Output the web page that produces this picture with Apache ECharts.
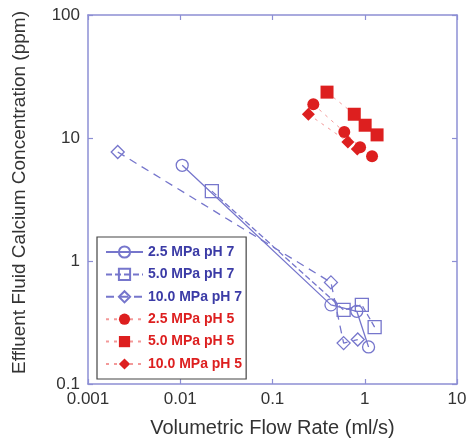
<!DOCTYPE html>
<html><head><meta charset="utf-8">
<script src="https://cdn.jsdelivr.net/npm/echarts@6/dist/echarts.min.js"></script>
<style>html,body{margin:0;padding:0;background:#fff}#c{width:475px;height:443px}</style>
</head><body><div id="c"></div>
<script>
const xTicks = [0.001, 0.01, 0.1, 1, 10];
const yTicks = [0.1, 1, 10, 100];
const names = ['2.5 MPa pH 7','5.0 MPa pH 7','10.0 MPa pH 7','2.5 MPa pH 5','5.0 MPa pH 5','10.0 MPa pH 5'];
const flow25pH7 = [0.0105, 0.43, 0.82, 1.1];
const ca25pH7   = [6.0, 0.44, 0.39, 0.20];
const flow50pH7 = [0.022, 0.59, 0.93, 1.28];
const ca50pH7   = [3.7, 0.40, 0.44, 0.29];
const flow100pH7 = [0.0021, 0.43, 0.59, 0.84];
const ca100pH7   = [7.7, 0.67, 0.215, 0.23];
const flow25pH5 = [0.277, 0.60, 0.89, 1.20];
const ca25pH5   = [18.8, 11.2, 8.4, 7.1];
const flow50pH5 = [0.39, 0.77, 1.01, 1.36];
const ca50pH5   = [23.6, 15.6, 12.7, 10.6];
const flow100pH5 = [0.245, 0.656, 0.83];
const ca100pH5   = [15.6, 9.3, 8.15];

const BLUE = '#7676cc', BLUE_TXT = '#3b3ba6', RED = '#dd1f1f', AX = '#8d8fd4';
const zip = (a, b) => a.map((v, i) => [v, b[i]]);
const fmt = v => String(v);

function axisBase(show) {
  return {
    type: 'log', logBase: 10,
    axisLine: { show: true, onZero: false, lineStyle: { color: AX, width: 1.5 } },
    axisTick: { show: true, inside: true, length: 5, lineStyle: { color: AX, width: 1.2 } },
    minorTick: { show: false },
    splitLine: { show: false },
    axisLabel: { show: show, color: '#333', fontSize: 17, fontFamily: 'Liberation Sans, Arial', formatter: fmt }
  };
}

function blueSeries(name, x, y, symbol, size, dash) {
  return {
    name, type: 'line', data: zip(x, y), symbol, symbolSize: size,
    showAllSymbol: true,
    itemStyle: { color: 'rgba(255,255,255,0)', borderColor: BLUE, borderWidth: 1.3 },
    lineStyle: { color: BLUE, width: 1.3, type: dash },
    z: 3
  };
}
function redSeries(name, x, y, symbol, size) {
  return {
    name, type: 'line', data: zip(x, y), symbol, symbolSize: size,
    showAllSymbol: true,
    itemStyle: { color: RED, borderColor: RED, borderWidth: 0 },
    lineStyle: { color: '#f08080', width: 1, type: [3, 5], opacity: 0.8 },
    z: 4
  };
}

const chart = echarts.init(document.getElementById('c'), null, { renderer: 'canvas' });
chart.setOption({
  animation: false,
  backgroundColor: '#fff',
  grid: { left: 88, right: 18, top: 15, bottom: 56, containLabel: false },
  xAxis: [
    Object.assign(axisBase(true), { min: xTicks[0], max: xTicks[xTicks.length - 1], position: 'bottom',
      name: 'Volumetric Flow Rate (ml/s)', nameLocation: 'middle', nameGap: 34,
      nameTextStyle: { color: '#333', fontSize: 20, fontFamily: 'Liberation Sans, Arial' },
      axisLabel: { show: true, color: '#333', fontSize: 17, margin: 7, fontFamily: 'Liberation Sans, Arial', formatter: fmt } }),
    Object.assign(axisBase(false), { min: xTicks[0], max: xTicks[xTicks.length - 1], position: 'top' })
  ],
  yAxis: [
    Object.assign(axisBase(true), { min: yTicks[0], max: yTicks[yTicks.length - 1], position: 'left',
      name: 'Effluent Fluid Calcium Concentration (ppm)', nameLocation: 'middle', nameGap: 59, nameRotate: 90,
      nameTextStyle: { color: '#333', fontSize: 19, fontFamily: 'Liberation Sans, Arial', padding: [0, 0, 0, 14] },
      axisLabel: { show: true, color: '#333', fontSize: 17, margin: 8, fontFamily: 'Liberation Sans, Arial', formatter: fmt } }),
    Object.assign(axisBase(false), { min: yTicks[0], max: yTicks[yTicks.length - 1], position: 'right' })
  ],
  legend: {
    orient: 'vertical', left: 97, top: 237,
    padding: [8, 4, 8, 8], itemGap: 8.4, itemWidth: 37, itemHeight: 14,
    backgroundColor: '#fff', borderColor: '#444', borderWidth: 1.2, borderRadius: 0,
    textStyle: { fontSize: 14, fontWeight: 'bold', fontFamily: 'Liberation Sans, Arial' },
    data: names.map((n, i) => ({ name: n, textStyle: { color: i < 3 ? BLUE_TXT : RED } }))
  },
  series: [
    blueSeries(names[0], flow25pH7, ca25pH7, 'circle', 12, 'solid'),
    blueSeries(names[1], flow50pH7, ca50pH7, 'rect', 13, [6, 3]),
    blueSeries(names[2], flow100pH7, ca100pH7, 'diamond', 13, [8, 6]),
    redSeries(names[3], flow25pH5, ca25pH5, 'circle', 12),
    redSeries(names[4], flow50pH5, ca50pH5, 'rect', 13),
    redSeries(names[5], flow100pH5, ca100pH5, 'diamond', 13)
  ]
});
</script></body></html>
